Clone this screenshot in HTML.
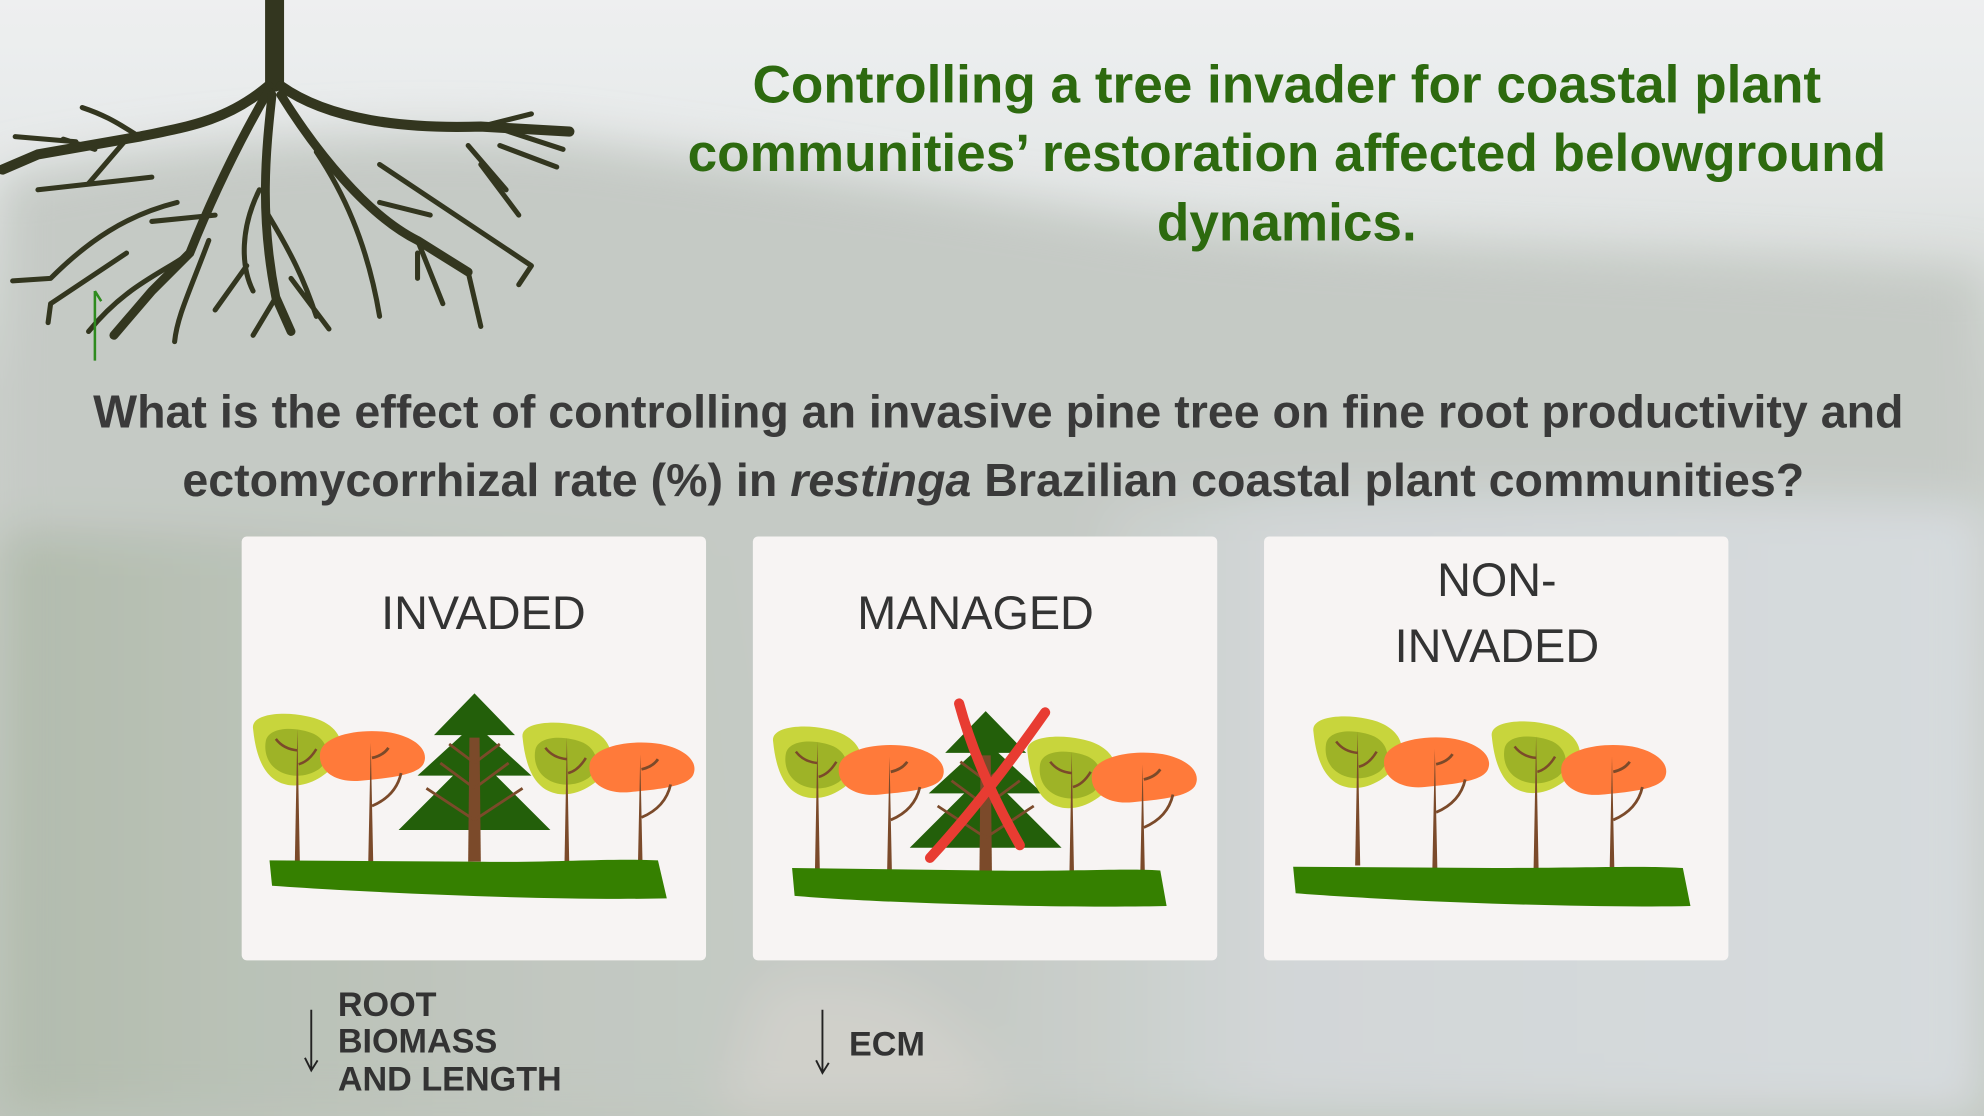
<!DOCTYPE html>
<html><head><meta charset="utf-8"><style>
html,body{margin:0;padding:0;width:1984px;height:1116px;overflow:hidden}
svg{display:block;overflow:hidden}
</style></head><body>
<svg width="1984" height="1116" viewBox="0 0 1568 882" xmlns="http://www.w3.org/2000/svg">
<defs>
<clipPath id="frame"><rect width="1568" height="882"/></clipPath>
<linearGradient id="sky" x1="0" y1="0" x2="0" y2="1">
<stop offset="0" stop-color="#eceeef"/><stop offset="0.15" stop-color="#e3e6e6"/><stop offset="0.35" stop-color="#c6cbc6"/><stop offset="1" stop-color="#b9c0b6"/>
</linearGradient>
<linearGradient id="sea" x1="0" y1="0" x2="1" y2="0">
<stop offset="0" stop-color="#c8cdca" stop-opacity="0"/><stop offset="0.3" stop-color="#cdd2d3"/><stop offset="1" stop-color="#d2d7da"/>
</linearGradient>
<linearGradient id="left" x1="0" y1="0" x2="1" y2="0">
<stop offset="0" stop-color="#a9b4a4"/><stop offset="1" stop-color="#b4bbb0" stop-opacity="0"/>
</linearGradient>
<g id="lime">
<path d="M-34,-20 C-36,-32 -10,-34 8,-30 C30,-26 40,-12 34,2 C28,16 8,28 -8,24 C-26,20 -32,0 -34,-20Z" fill="#c8d53c"/>
<path d="M-24,-10 C-22,-22 0,-22 14,-16 C26,-10 28,4 18,12 C6,20 -10,18 -18,10 C-24,4 -25,-4 -24,-10Z" fill="#9eb327"/>
<path d="M1,-20 L3,86 L-1,86 Z" fill="#7b4a2a"/>
<path d="M-16,-12 Q-10,-4 1,-3 M16,-4 Q10,6 2,8" stroke="#7b4a2a" stroke-width="2" fill="none"/>
</g>
<g id="orange">
<path d="M-42,-2 C-40,-16 -10,-22 14,-18 C34,-14 44,-4 40,6 C36,16 10,18 -10,20 C-30,22 -44,12 -42,-2Z" fill="#ff7a3a"/>
<path d="M-2,-10 L0,86 L-4,86 Z" fill="#7b4a2a"/>
<path d="M-1,2 Q8,0 12,-6 M-1,40 Q18,32 22,14" stroke="#7b4a2a" stroke-width="2.2" fill="none"/>
</g>
<g id="pine">
<polygon points="0,0 -32,33 -10,33 -45,65 -17,65 -60,108 60,108 17,65 45,65 10,33 32,33" fill="#235f0a"/>
<path d="M-4,35 L4,35 L5,133 L-5,133 Z" fill="#7b4a2a"/>
<path d="M0,55 L-20,40 M0,55 L20,40 M0,75 L-27,55 M0,75 L27,55 M0,100 L-38,75 M0,100 L38,75" stroke="#7b4a2a" stroke-width="2.2" fill="none"/>
</g>
<filter id="blur" x="0" y="0" width="1568" height="882" filterUnits="userSpaceOnUse"><feGaussianBlur stdDeviation="18" edgeMode="duplicate"/></filter>
</defs>

<g clip-path="url(#frame)">
<rect width="1568" height="882" fill="url(#sky)"/>
<g filter="url(#blur)">
<path d="M0,140 C150,110 300,100 450,110 C600,130 750,150 900,175 C1100,200 1300,195 1568,215 L1568,882 L0,882Z" fill="#bfc5bf"/>
<path d="M0,420 C200,420 400,430 560,440 L640,882 L0,882Z" fill="url(#left)"/>
<path d="M880,400 C1100,385 1300,390 1568,400 L1568,882 L760,882 C820,700 860,520 880,400Z" fill="url(#sea)"/>
<path d="M600,780 C680,760 760,780 800,882 L570,882Z" fill="#cbcbc4"/>
</g>
<rect width="1568" height="882" fill="#ffffff" opacity="0.1"/>

<g stroke="#33361f" fill="none" stroke-linecap="round">
<path d="M217,0 L217,65" stroke-width="15"/>
<path d="M212,68 C180,95 150,100 110,108 L30,122 L2,134" stroke-width="8"/>
<path d="M110,108 C90,95 80,90 65,85 M60,112 L12,108 M100,110 L70,145 M75,118 L50,110" stroke-width="4"/>
<path d="M222,68 C260,95 320,102 380,100 L450,104" stroke-width="8"/>
<path d="M380,100 L420,90 M390,100 L445,118 M370,115 L400,150 M395,115 L440,132" stroke-width="4"/>
<path d="M212,72 C190,110 170,150 150,200 L120,230 L90,265" stroke-width="7"/>
<path d="M150,200 C130,215 100,225 70,262 M170,170 L120,175 M140,160 C100,170 70,190 40,220 M40,220 L10,222 M120,140 L30,150 M100,200 L40,240 M40,240 L38,255" stroke-width="4"/>
<path d="M215,75 C210,120 205,170 218,235 L230,262" stroke-width="7"/>
<path d="M218,235 L200,265 M212,170 C230,200 240,220 250,250 M205,150 C190,180 190,210 200,230 M230,220 L260,260" stroke-width="4"/>
<path d="M222,75 C250,120 290,170 330,190 L370,215" stroke-width="7"/>
<path d="M250,120 C270,150 290,190 300,250 M330,190 L350,240 M300,130 C330,150 360,170 420,210 M370,215 L380,258 M420,210 L410,225 M380,130 L410,170 M300,160 L340,170 M330,200 L330,220" stroke-width="4"/>
<path d="M165,190 C150,230 140,250 138,270 M195,210 L170,245" stroke-width="4"/>
</g>
<path d="M75,230 L75,285 M75,230 L80,238" stroke="#2e8b1e" stroke-width="2" fill="none"/>

<g font-family="Liberation Sans, sans-serif" font-weight="bold" text-anchor="middle">
<text x="1017" y="81" font-size="42" fill="#2d6a0f">Controlling a tree invader for coastal plant</text>
<text x="1017" y="135" font-size="42" fill="#2d6a0f">communities’ restoration affected belowground</text>
<text x="1017" y="190" font-size="42" fill="#2d6a0f">dynamics.</text>
<text x="789" y="338" font-size="36.8" fill="#3a3a3a">What is the effect of controlling an invasive pine tree on fine root productivity and</text>
<text x="785" y="392" font-size="36.8" fill="#3a3a3a">ectomycorrhizal rate (%) in <tspan font-style="italic">restinga</tspan> Brazilian coastal plant communities?</text>
</g>

<rect x="191" y="424" width="367" height="335" rx="4" fill="#f7f4f3"/>
<rect x="595" y="424" width="367" height="335" rx="4" fill="#f7f4f3"/>
<rect x="999" y="424" width="367" height="335" rx="4" fill="#f7f4f3"/>
<g font-family="Liberation Sans, sans-serif" font-size="37" fill="#333" text-anchor="middle">
<text x="382" y="497">INVADED</text>
<text x="771" y="497">MANAGED</text>
<text x="1183" y="471">NON-</text>
<text x="1183" y="523">INVADED</text>
</g>

<use href="#lime" x="234" y="596"/>
<use href="#orange" x="295" y="597"/>
<use href="#pine" x="375" y="548"/>
<use href="#lime" x="447" y="603"/>
<use href="#orange" x="508" y="606"/>
<path d="M213,680 L370,681 C440,682 480,678 520,680 L527,710 C440,712 300,706 215,700 Z" fill="#358000"/>

<use href="#lime" x="645" y="606"/>
<use href="#orange" x="705" y="608"/>
<use href="#pine" x="779" y="562"/>
<use href="#lime" x="846" y="614"/>
<use href="#orange" x="905" y="614"/>
<path d="M626,686 L780,688 C850,689 890,686 917,688 L922,716 C840,718 700,714 628,708 Z" fill="#358000"/>
<path d="M758,556 C770,600 790,640 806,668 M826,563 C800,600 770,640 735,678" stroke="#e83c32" stroke-width="8" fill="none" stroke-linecap="round"/>

<use href="#lime" x="1072" y="598"/>
<use href="#orange" x="1136" y="602"/>
<use href="#lime" x="1213" y="602"/>
<use href="#orange" x="1276" y="608"/>
<path d="M1022,685 L1180,686 C1250,686 1300,684 1330,686 L1336,716 C1250,718 1100,712 1024,706 Z" fill="#358000"/>

<g stroke="#222" stroke-width="1.5" fill="none">
<path d="M246,798 L246,846 M241,836 L246,846 L251,838"/>
<path d="M650,798 L650,848 M645,838 L650,848 L655,840"/>
</g>
<g font-family="Liberation Sans, sans-serif" font-weight="bold" font-size="27" fill="#333">
<text x="267" y="803">ROOT</text>
<text x="267" y="832">BIOMASS</text>
<text x="267" y="862">AND LENGTH</text>
<text x="671" y="834">ECM</text>
</g>
</g>
</svg>
</body></html>
